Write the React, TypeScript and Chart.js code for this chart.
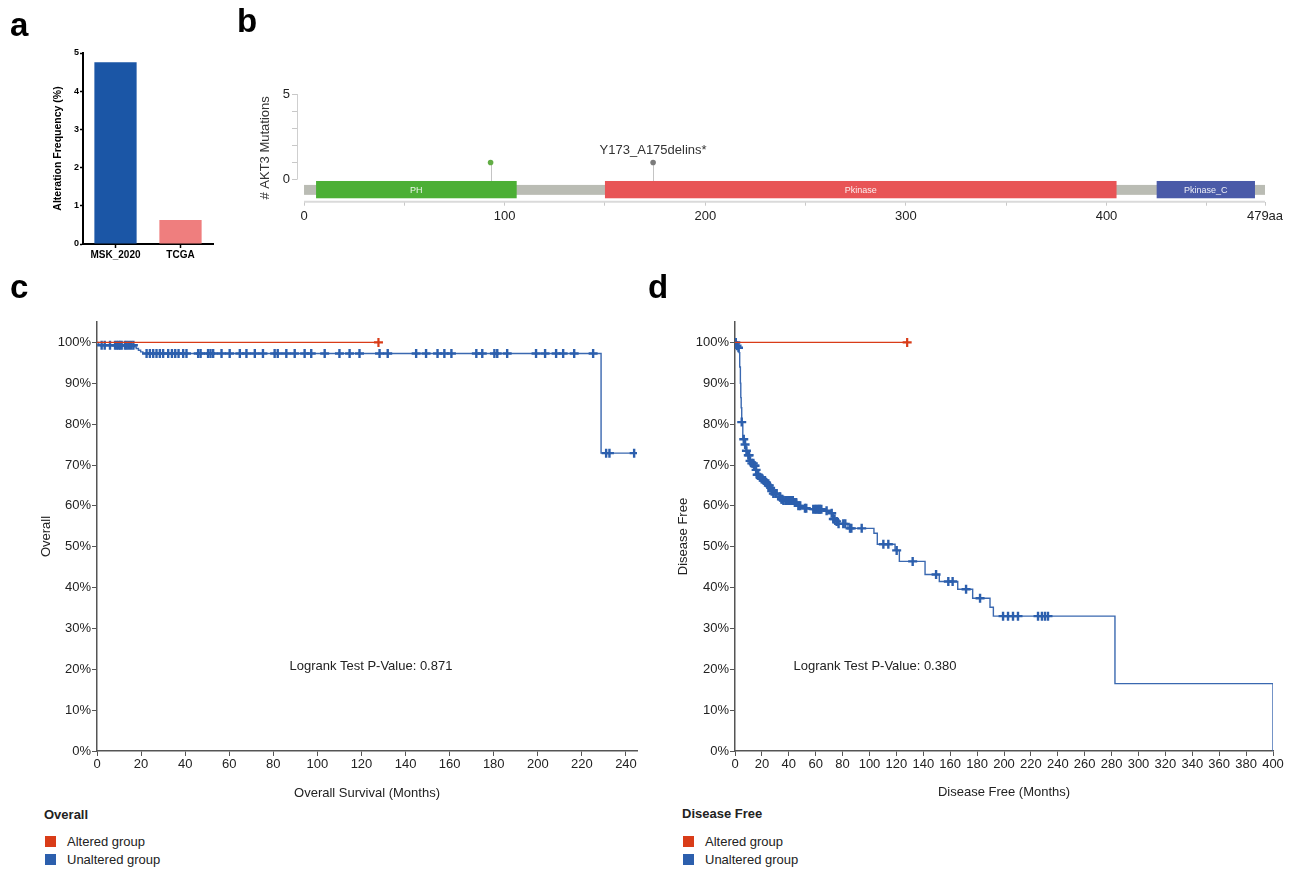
import React, { useEffect, useRef } from 'react';
import { Chart, registerables } from 'chart.js';

Chart.register(...registerables);

const FONT = '"Liberation Sans", Arial, Helvetica, sans-serif';
Chart.defaults.font.family = FONT;
Chart.defaults.color = '#222';

// ---------------- Panel a: alteration frequency ----------------
const freqCategories = ['MSK_2020', 'TCGA'];
const freqValues = [4.76, 0.63];
const freqTicks = [0, 1, 2, 3, 4, 5];

// ---------------- Panel b: lollipop ----------------
const proteinLength = 479;
const domainNames = ['PH', 'Pkinase', 'Pkinase_C'];
const domainStarts = [6, 150, 425];
const domainEnds = [106, 405, 474];
const mutationPositions = [93, 174];
const mutationCounts = [1, 1];
const mutationLabels = ['', 'Y173_A175delins*'];
const lollipopXTicks = [0, 50, 100, 150, 200, 250, 300, 350, 400, 450, 479];
const lollipopYTicks = [0, 1, 2, 3, 4, 5];

// ---------------- Panel c: overall survival ----------------
const osAlteredTimes = [0, 127.7];
const osAlteredSurv = [100, 100];
const osAlteredCensor = [127.7];
const osUnalteredTimes = [0, 0.8, 16.8, 17.8, 18.8, 19.8, 20.8, 228.7, 243.7];
const osUnalteredSurv = [100, 99.3, 98.9, 98.5, 98.1, 97.7, 97.3, 72.9, 72.9];
const osUnalteredCensor = [
  2.1, 3.5, 5.9, 8.2, 9.0, 9.8, 10.5, 11.2, 12.7, 13.5, 14.5, 15.5, 16.5,
  22.5, 24, 25.5, 27, 28.5, 30, 32.3, 34, 35.5, 37, 39.1, 40.6, 45.9, 47,
  50.4, 51.5, 52.7, 56.5, 60.2, 64.8, 67.8, 71.6, 75.3, 80.6, 82, 85.9,
  89.7, 94.2, 97.2, 103.3, 110, 114.6, 119.1, 128.2, 131.9, 144.8, 149.3,
  154.5, 157.6, 160.8, 172.1, 174.8, 180.3, 181.6, 186.1, 199.2, 203.3,
  208.3, 211.5, 216.5, 225.1, 231, 232.5, 243.7,
];
const osXTicks = [0, 20, 40, 60, 80, 100, 120, 140, 160, 180, 200, 220, 240];
const pctTicks = [0, 10, 20, 30, 40, 50, 60, 70, 80, 90, 100];

// ---------------- Panel d: disease free ----------------
const dfsAlteredTimes = [0, 128];
const dfsAlteredSurv = [100, 100];
const dfsAlteredCensor = [128];
const dfsUnalteredTimes = [
  0, 1, 2.5, 3, 3.5, 4, 4.3, 4.6, 5, 5.8, 7, 8.2, 9.5, 10.8, 12, 14, 15.3,
  16.5, 18, 19.5, 21, 23, 24.5, 26, 27, 28.5, 32.5, 34, 36, 44, 46, 47, 50,
  52, 55, 67, 71, 73, 74.5, 76, 84, 103.3, 105.8, 119, 122.2, 141.3, 151.9,
  165.6, 176.7, 189.6, 192.1, 282.5, 400,
];
const dfsUnalteredSurv = [
  100, 99.2, 98.7, 97.5, 94, 90, 86.5, 84, 80.5, 76.3, 75, 73.5, 72.4, 71,
  70.4, 69.8, 68.8, 67.6, 67, 66.6, 66.2, 65.6, 65, 64.4, 63.6, 63, 62.2,
  61.6, 61.3, 60.8, 60.4, 60, 59.6, 59.4, 59.2, 58.8, 58.2, 56.8, 56.2, 55.6,
  54.5, 53.3, 50.6, 49.1, 46.4, 43.2, 41.5, 39.6, 37.4, 35.2, 33.0, 16.5, 0,
];
const dfsUnalteredCensor = [
  0.6, 1.5, 2.6, 5, 6.5, 7.5, 8.5, 9.9, 10.5, 11.2, 12.5, 13.6, 14.3, 14.9,
  15.7, 16.5, 17.3, 18.5, 19.8, 20.5, 21.5, 22.3, 23.5, 24.8, 25.5, 26.5,
  27.3, 28.5, 30, 31, 33.5, 34.5, 35.2, 36, 37.5, 38.5, 39.5, 40.5, 41.5,
  42.1, 43, 44.6, 45.5, 47.1, 48.5, 52, 53, 58.2, 59.5, 60.5, 61.5, 62.5,
  63.2, 64.2, 68.1, 71.9, 73.1, 74, 75.6, 77, 80.5, 82, 85.5, 86.5, 94.2,
  110.3, 114, 120.2, 132.1, 149.5, 158.6, 161.8, 171.8, 182.2, 199.3, 203,
  206.7, 210.4, 225.3, 228.2, 230.5, 232.7,
];
const dfsXTicks = [
  0, 20, 40, 60, 80, 100, 120, 140, 160, 180, 200, 220, 240, 260, 280, 300,
  320, 340, 360, 380, 400,
];

// ---------------- styles ----------------
const RED = '#d93c18';
const BLUE = '#2c5fad';
const BLUE_LINE = '#3a68b0';
const AXIS_GREY = '#555';
const DOMAIN_COLORS = ['#4caf35', '#e85456', '#4a5aa8'];
const MUT_COLORS = ['#62ad45', '#7b7b7b'];
// vertical placement (y units) of protein track in panel b
const BACKBONE_TOP = -0.31;
const BACKBONE_BOTTOM = -0.89;
const DOMAIN_TOP = -0.08;
const DOMAIN_BOTTOM = -1.09;

function survivalAt(times: number[], surv: number[], t: number) {
  let s = surv[0];
  for (let i = 0; i < times.length; i++) if (times[i] <= t) s = surv[i];
  return s;
}

function setTicks(list: number[]) {
  return (scale: any) => {
    scale.ticks = list.map((v) => ({ value: v }));
  };
}

function barConfig(): any {
  return {
    type: 'bar',
    data: {
      labels: freqCategories,
      datasets: [
        {
          data: freqValues,
          backgroundColor: ['#1b56a6', '#ef7e7e'],
          categoryPercentage: 1,
          barPercentage: 0.65,
        },
      ],
    },
    options: {
      animation: false,
      responsive: false,
      devicePixelRatio: 1,
      layout: { padding: { top: 13, right: 17, left: 0, bottom: 0 } },
      plugins: { legend: { display: false }, tooltip: { enabled: false } },
      scales: {
        x: {
          grid: { offset: false, drawOnChartArea: false, tickLength: 4, tickColor: '#000', tickWidth: 1.5 },
          border: { color: '#000', width: 2 },
          ticks: { font: { size: 10, weight: 'bold' }, color: '#000', padding: 1 },
          afterFit: (s: any) => { s.height = 36; },
        },
        y: {
          min: 0,
          max: 5,
          afterBuildTicks: setTicks(freqTicks),
          grid: { drawOnChartArea: false, tickLength: 3, tickColor: '#000', tickWidth: 1.5 },
          border: { color: '#000', width: 2 },
          ticks: { font: { size: 9, weight: 'bold' }, color: '#000', padding: 1 },
          title: {
            display: true,
            text: 'Alteration Frequency (%)',
            font: { size: 10.5, weight: 'bold' },
            color: '#000',
            padding: { top: 52, bottom: 0 },
          },
          afterFit: (s: any) => { s.width = 83; },
        },
      },
    },
  };
}

const lollipopPlugin = {
  id: 'lollipopTrack',
  beforeDatasetsDraw(chart: any) {
    const { ctx, chartArea } = chart;
    const x = chart.scales.x;
    const y = chart.scales.y;
    ctx.save();
    // axis lines
    ctx.strokeStyle = '#cfcfcf';
    ctx.lineWidth = 1;
    ctx.beginPath();
    ctx.moveTo(chartArea.left + 0.5, y.getPixelForValue(0));
    ctx.lineTo(chartArea.left + 0.5, y.getPixelForValue(5));
    ctx.stroke();
    ctx.lineWidth = 2;
    ctx.strokeStyle = '#dadada';
    ctx.beginPath();
    ctx.moveTo(x.getPixelForValue(0), chartArea.bottom);
    ctx.lineTo(x.getPixelForValue(proteinLength), chartArea.bottom);
    ctx.stroke();
    // stems
    ctx.strokeStyle = '#c4c4c4';
    ctx.lineWidth = 1;
    mutationPositions.forEach((p, i) => {
      const px = Math.round(x.getPixelForValue(p)) + 0.5;
      ctx.beginPath();
      ctx.moveTo(px, y.getPixelForValue(mutationCounts[i]));
      ctx.lineTo(px, y.getPixelForValue(DOMAIN_TOP));
      ctx.stroke();
    });
    // backbone
    const bx0 = x.getPixelForValue(0);
    const bx1 = x.getPixelForValue(proteinLength);
    const by0 = y.getPixelForValue(BACKBONE_TOP);
    const by1 = y.getPixelForValue(BACKBONE_BOTTOM);
    ctx.fillStyle = '#babcb4';
    ctx.fillRect(bx0, by0, bx1 - bx0, by1 - by0);
    // domains
    const dy0 = y.getPixelForValue(DOMAIN_TOP);
    const dy1 = y.getPixelForValue(DOMAIN_BOTTOM);
    domainNames.forEach((name, i) => {
      const x0 = x.getPixelForValue(domainStarts[i]);
      const x1 = x.getPixelForValue(domainEnds[i]);
      ctx.fillStyle = DOMAIN_COLORS[i];
      ctx.fillRect(x0, dy0, x1 - x0, dy1 - dy0);
      ctx.fillStyle = 'rgba(255,255,255,0.9)';
      ctx.font = `9px ${FONT}`;
      ctx.textAlign = 'center';
      ctx.textBaseline = 'middle';
      ctx.fillText(name, (x0 + x1) / 2, (dy0 + dy1) / 2 + 0.5);
    });
    ctx.restore();
  },
  afterDatasetsDraw(chart: any) {
    const { ctx } = chart;
    const x = chart.scales.x;
    const y = chart.scales.y;
    ctx.save();
    ctx.fillStyle = '#333';
    ctx.font = `13px ${FONT}`;
    ctx.textAlign = 'center';
    ctx.textBaseline = 'alphabetic';
    mutationPositions.forEach((p, i) => {
      if (!mutationLabels[i]) return;
      ctx.fillText(mutationLabels[i], x.getPixelForValue(p), y.getPixelForValue(mutationCounts[i]) - 8);
    });
    ctx.restore();
  },
};

function lollipopConfig(): any {
  return {
    type: 'scatter',
    data: {
      datasets: [
        {
          data: mutationPositions.map((p, i) => ({ x: p, y: mutationCounts[i] })),
          pointRadius: 2.8,
          pointBackgroundColor: MUT_COLORS,
          pointBorderWidth: 0,
        },
      ],
    },
    plugins: [lollipopPlugin],
    options: {
      animation: false,
      responsive: false,
      devicePixelRatio: 1,
      layout: { padding: { top: 34, right: 31, left: 0, bottom: 0 } },
      plugins: { legend: { display: false }, tooltip: { enabled: false } },
      scales: {
        x: {
          type: 'linear',
          min: -3.5,
          max: proteinLength,
          afterBuildTicks: setTicks(lollipopXTicks),
          ticks: {
            autoSkip: false,
            maxRotation: 0,
            font: { size: 13 },
            color: '#222',
            padding: 3,
            callback: (v: number) => (v === proteinLength ? `${v}aa` : v % 100 === 0 ? String(v) : ''),
          },
          grid: { drawOnChartArea: false, drawTicks: true, tickLength: 4, tickColor: '#c8c8c8' },
          border: { display: false },
          afterFit: (s: any) => { s.height = 33.3; },
        },
        y: {
          min: -1.29,
          max: 5,
          afterBuildTicks: setTicks(lollipopYTicks),
          ticks: {
            font: { size: 13 },
            color: '#222',
            padding: 2,
            callback: (v: number) => (v === 0 || v === 5 ? String(v) : ''),
          },
          grid: { drawOnChartArea: false, drawTicks: true, tickLength: 5, tickColor: '#c8c8c8' },
          border: { display: false },
          title: {
            display: true,
            text: '# AKT3 Mutations',
            font: { size: 13 },
            color: '#333',
            padding: { top: 28, bottom: 0 },
          },
          afterFit: (s: any) => { s.width = 67; },
        },
      },
    },
  };
}

function kmConfig(o: any): any {
  const line = (times: number[], surv: number[]) => times.map((t, i) => ({ x: t, y: surv[i] }));
  const cens = (times: number[], surv: number[], cs: number[]) =>
    cs.map((t) => ({ x: t, y: survivalAt(times, surv, t) }));
  return {
    type: 'line',
    data: {
      datasets: [
        {
          data: line(o.unTimes, o.unSurv),
          borderColor: BLUE_LINE,
          borderWidth: 1.4,
          stepped: 'before',
          pointRadius: 0,
          fill: false,
          order: 3,
        },
        {
          type: 'scatter',
          data: cens(o.unTimes, o.unSurv, o.unCensor),
          pointStyle: 'cross',
          pointRadius: 4.5,
          borderWidth: 2.4,
          borderColor: BLUE,
          backgroundColor: BLUE,
          showLine: false,
          order: 2,
        },
        {
          data: line(o.altTimes, o.altSurv),
          borderColor: RED,
          borderWidth: 1.3,
          stepped: 'before',
          pointRadius: 0,
          fill: false,
          order: 1,
        },
        {
          type: 'scatter',
          data: cens(o.altTimes, o.altSurv, o.altCensor),
          pointStyle: 'cross',
          pointRadius: 4.5,
          borderWidth: 2.2,
          borderColor: RED,
          backgroundColor: RED,
          showLine: false,
          order: 0,
        },
      ],
    },
    options: {
      animation: false,
      responsive: false,
      devicePixelRatio: 1,
      layout: { padding: { top: 22, right: o.padRight, left: 0, bottom: 0 } },
      plugins: { legend: { display: false }, tooltip: { enabled: false } },
      scales: {
        x: {
          type: 'linear',
          min: 0,
          max: o.xMax,
          afterBuildTicks: setTicks(o.xTicks),
          ticks: { autoSkip: false, maxRotation: 0, font: { size: 13 }, color: '#222', padding: 1 },
          grid: { drawOnChartArea: false, drawTicks: true, tickLength: 5, tickColor: AXIS_GREY },
          border: { color: AXIS_GREY, width: 1.5 },
          title: { display: true, text: o.xTitle, font: { size: 13 }, color: '#222', padding: { top: 0, bottom: 0 } },
          afterFit: (s: any) => { s.height = o.xAxisHeight; },
        },
        y: {
          min: 0,
          max: 105,
          afterBuildTicks: setTicks(pctTicks),
          ticks: { font: { size: 13 }, color: '#222', padding: 1, callback: (v: number) => `${v}%` },
          grid: { drawOnChartArea: false, drawTicks: true, tickLength: 5, tickColor: AXIS_GREY },
          border: { color: AXIS_GREY, width: 1.5 },
          title: { display: true, text: o.yTitle, font: { size: 13 }, color: '#222', padding: { top: o.yTitlePad, bottom: 0 } },
          afterFit: (s: any) => { s.width = o.yAxisWidth; },
        },
      },
    },
  };
}

function ChartBox({ left, top, width, height, makeConfig }: any) {
  const ref = useRef<HTMLCanvasElement | null>(null);
  useEffect(() => {
    const chart = new Chart(ref.current as HTMLCanvasElement, makeConfig());
    return () => chart.destroy();
  }, []);
  return (
    <canvas
      ref={ref}
      width={width}
      height={height}
      style={{ position: 'absolute', left, top, width, height }}
    />
  );
}

function Label({ x, y, size, bold, center, color, children }: any) {
  return (
    <div
      style={{
        position: 'absolute',
        left: x,
        top: y - 0.846 * size,
        fontSize: size,
        lineHeight: `${size}px`,
        fontWeight: bold ? 'bold' : 'normal',
        fontFamily: FONT,
        color: color || '#222',
        whiteSpace: 'nowrap',
        transform: center ? 'translateX(-50%)' : undefined,
      }}
    >
      {children}
    </div>
  );
}

function Swatch({ x, y, color }: any) {
  return <div style={{ position: 'absolute', left: x, top: y, width: 11, height: 11, background: color }} />;
}

export default function App() {
  return (
    <div
      style={{
        position: 'absolute',
        left: 0,
        top: 0,
        width: 1296,
        height: 869,
        background: '#fff',
        overflow: 'hidden',
      }}
    >
      <ChartBox left={0} top={40} width={230} height={240} makeConfig={barConfig} />
      <ChartBox left={230} top={60} width={1066} height={175} makeConfig={lollipopConfig} />
      <ChartBox
        left={0}
        top={300}
        width={660}
        height={501}
        makeConfig={() =>
          kmConfig({
            altTimes: osAlteredTimes,
            altSurv: osAlteredSurv,
            altCensor: osAlteredCensor,
            unTimes: osUnalteredTimes,
            unSurv: osUnalteredSurv,
            unCensor: osUnalteredCensor,
            xMax: 245,
            xTicks: osXTicks,
            xTitle: 'Overall Survival (Months)',
            yTitle: 'Overall',
            yAxisWidth: 97,
            yTitlePad: 39,
            xAxisHeight: 50,
            padRight: 23,
          })
        }
      />
      <ChartBox
        left={640}
        top={300}
        width={650}
        height={500}
        makeConfig={() =>
          kmConfig({
            altTimes: dfsAlteredTimes,
            altSurv: dfsAlteredSurv,
            altCensor: dfsAlteredCensor,
            unTimes: dfsUnalteredTimes,
            unSurv: dfsUnalteredSurv,
            unCensor: dfsUnalteredCensor,
            xMax: 400,
            xTicks: dfsXTicks,
            xTitle: 'Disease Free (Months)',
            yTitle: 'Disease Free',
            yAxisWidth: 95,
            yTitlePad: 36,
            xAxisHeight: 49,
            padRight: 17,
          })
        }
      />

      <Label x={10} y={36} size={33} bold color="#000">a</Label>
      <Label x={237} y={32} size={33} bold color="#000">b</Label>
      <Label x={10} y={298} size={33} bold color="#000">c</Label>
      <Label x={648} y={298} size={33} bold color="#000">d</Label>

      <Label x={371} y={670} size={13} center>Logrank Test P-Value: 0.871</Label>
      <Label x={875} y={670} size={13} center>Logrank Test P-Value: 0.380</Label>

      <Label x={44} y={819} size={13} bold>Overall</Label>
      <Swatch x={45} y={836} color={RED} />
      <Label x={67} y={846} size={13}>Altered group</Label>
      <Swatch x={45} y={854} color={BLUE} />
      <Label x={67} y={864} size={13}>Unaltered group</Label>

      <Label x={682} y={818} size={13} bold>Disease Free</Label>
      <Swatch x={683} y={836} color={RED} />
      <Label x={705} y={846} size={13}>Altered group</Label>
      <Swatch x={683} y={854} color={BLUE} />
      <Label x={705} y={864} size={13}>Unaltered group</Label>
    </div>
  );
}
